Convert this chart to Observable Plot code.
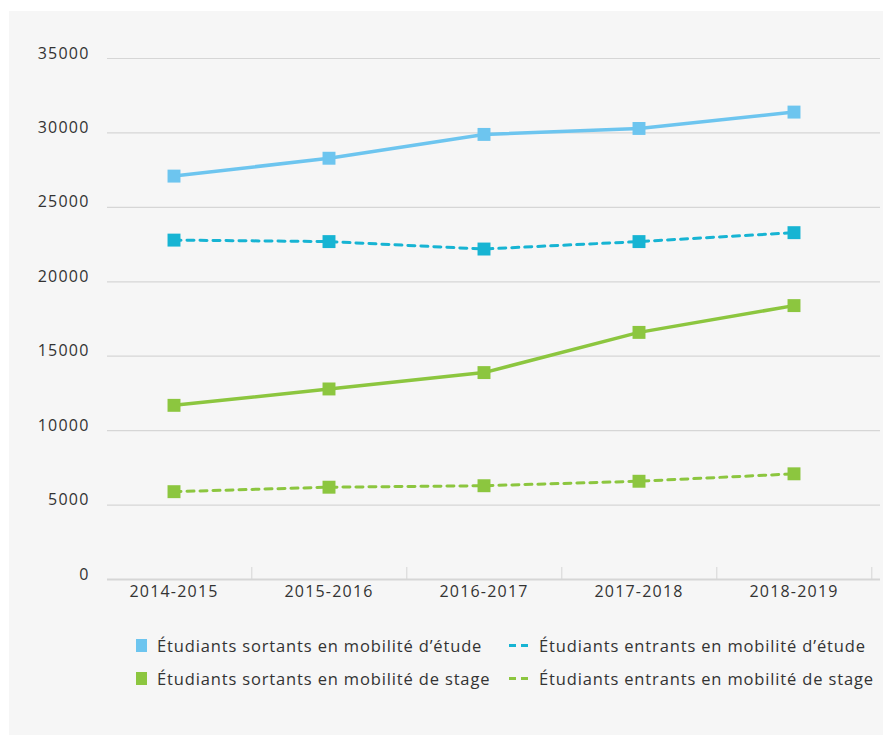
<!DOCTYPE html>
<html>
<head>
<meta charset="utf-8">
<script src="https://cdn.jsdelivr.net/npm/d3@7"></script>
<script src="https://cdn.jsdelivr.net/npm/@observablehq/plot@0.6"></script>
<style>
  html, body { margin: 0; padding: 0; background: #ffffff; }
  #panel { position: absolute; left: 9px; top: 11px; width: 874px; height: 724px; background: #f6f6f6; font-family: "Open Sans", sans-serif; color: #333; }
  #chart { position: absolute; left: 0; top: 0; }
  #chart svg text { letter-spacing: 1.2px; }
  #legend { position: absolute; left: 0; top: 622px; width: 874px; font-size: 16.5px; letter-spacing: 0.85px; color: #333; }
  .item { position: absolute; display: flex; align-items: center; white-space: nowrap; height: 24px; }
  .sq { width: 11px; height: 13px; margin-right: 10px; }
  .dash { width: 20px; height: 3px; margin-right: 10px; }
</style>
</head>
<body>
<div id="panel">
  <div id="chart"></div>
  <div id="legend"></div>
</div>
<script>
const years = ["2014-2015", "2015-2016", "2016-2017", "2017-2018", "2018-2019"];
const sortantsEtude = [27100, 28300, 29900, 30300, 31400];
const entrantsEtude = [22800, 22700, 22200, 22700, 23300];
const sortantsStage = [11700, 12800, 13900, 16600, 18400];
const entrantsStage = [5900, 6200, 6300, 6600, 7100];
const yTicks = [0, 5000, 10000, 15000, 20000, 25000, 30000, 35000];

const seriesNames = [
  "Étudiants sortants en mobilité d’étude",
  "Étudiants entrants en mobilité d’étude",
  "Étudiants sortants en mobilité de stage",
  "Étudiants entrants en mobilité de stage"
];
const seriesValues = [sortantsEtude, entrantsEtude, sortantsStage, entrantsStage];
const colors = ["#6dc5ef", "#17b4d3", "#8cc63f", "#8cc63f"];
const dashed = [false, true, false, true];

const data = seriesNames.flatMap((name, s) =>
  years.map((year, i) => ({series: name, year, value: seriesValues[s][i]}))
);

const bw = 155.6;
const marks = [
  Plot.ruleY(yTicks.filter(d => d > 0), {stroke: "#d6d6d6", strokeWidth: 1.2}),
  Plot.ruleY([0], {stroke: "#d6d6d6", strokeWidth: 2}),
  Plot.axisY({ticks: yTicks, tickSize: 0, tickPadding: 18, dy: -5, fontSize: 16, tickFormat: d => String(d), fill: "#333"}),
  Plot.axisX({tickSize: 0, tickPadding: 6, fontSize: 16, fill: "#333"}),
  Plot.axisX({tickSize: -12, tickFormat: null, dx: bw / 2, stroke: "#d6d6d6"})
];
seriesNames.forEach((name, s) => {
  const d = data.filter(r => r.series === name);
  marks.push(Plot.line(d, {
    x: "year", y: "value", stroke: colors[s],
    strokeWidth: dashed[s] ? 3 : 3.5,
    strokeDasharray: dashed[s] ? "7,6" : null
  }));
  marks.push(Plot.dot(d, {x: "year", y: "value", symbol: "square", r: 7.3, fill: colors[s], stroke: "none"}));
});

const chart = Plot.plot({
  width: 874,
  height: 610,
  marginLeft: 98,
  marginRight: 3,
  marginTop: 47,
  marginBottom: 42,
  style: {background: "transparent", fontFamily: "Open Sans, sans-serif", color: "#333"},
  x: {type: "band", domain: years, range: [85.2, 863.4], padding: 0, label: null},
  y: {domain: [0, 35000], label: null},
  marks
});
document.getElementById("chart").appendChild(chart);

const legend = document.getElementById("legend");
const pos = [[127, 0], [500, 0], [127, 33], [500, 33]];
seriesNames.forEach((name, s) => {
  const item = document.createElement("div");
  item.className = "item";
  item.style.left = pos[s][0] + "px";
  item.style.top = pos[s][1] + "px";
  const sw = document.createElement("div");
  if (dashed[s]) {
    sw.className = "dash";
    sw.style.background = `repeating-linear-gradient(90deg, ${colors[s]} 0 7px, transparent 7px 12px)`;
  } else {
    sw.className = "sq";
    sw.style.background = colors[s];
  }
  item.appendChild(sw);
  const t = document.createElement("span");
  t.textContent = name;
  item.appendChild(t);
  legend.appendChild(item);
});
</script>
</body>
</html>
